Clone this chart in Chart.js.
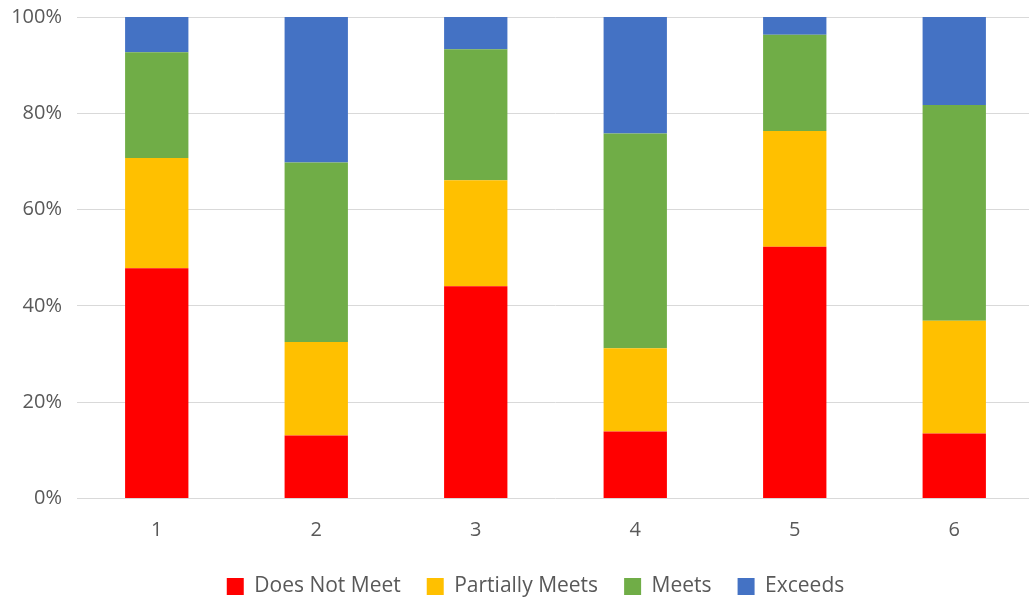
<!DOCTYPE html>
<html>
<head>
<meta charset="utf-8">
<script src="https://cdn.jsdelivr.net/npm/chart.js@4/dist/chart.umd.min.js"></script>
<style>
  html, body { margin: 0; padding: 0; background: #ffffff; overflow: hidden; }
  #wrap { width: 1071px; height: 598px; }
</style>
</head>
<body>
<div id="wrap"><canvas id="chart" width="1071" height="598"></canvas></div>
<script>
// Share of results per group, in percent (each group sums to 100)
const categories = ['1', '2', '3', '4', '5', '6'];
const doesNotMeet    = [47.8, 13.1, 44.1, 13.9, 52.3, 13.5];
const partiallyMeets = [22.9, 19.4, 22.0, 17.3, 24.0, 23.4];
const meets          = [22.0, 37.3, 27.2, 44.6, 20.0, 44.8];
const exceeds        = [7.3, 30.2, 6.7, 24.2, 3.7, 18.3];
const yTicks = [0, 20, 40, 60, 80, 100];

const FONT = '"Open Sans", "DejaVu Sans", sans-serif';
const TEXT = '#595959';

const ds = (label, data, color) => ({
  label, data,
  backgroundColor: color,
  borderWidth: 0,
  barPercentage: 0.397,
  categoryPercentage: 1.0
});

// Centre the legend row on the full canvas width rather than on the padded box
const legendShift = {
  id: 'legendShift',
  afterLayout(chart) {
    const lg = chart.legend;
    if (!lg) return;
    const dx = (chart.width / 2) - (lg.left + lg.right) / 2;
    lg.left += dx;
    lg.right += dx;
  }
};

new Chart(document.getElementById('chart'), {
  type: 'bar',
  data: {
    labels: categories,
    datasets: [
      ds('Does Not Meet', doesNotMeet, '#FF0000'),
      ds('Partially Meets', partiallyMeets, '#FFC000'),
      ds('Meets', meets, '#70AD47'),
      ds('Exceeds', exceeds, '#4472C4')
    ]
  },
  plugins: [legendShift],
  options: {
    responsive: false,
    animation: false,
    layout: { padding: { top: 17, right: 37, left: 11, bottom: -9 } },
    plugins: {
      legend: {
        position: 'bottom',
        labels: {
          font: { family: FONT, size: 21 },
          color: TEXT,
          boxWidth: 17,
          boxHeight: 17,
          padding: 26
        }
      },
      tooltip: { enabled: false }
    },
    scales: {
      x: {
        stacked: true,
        grid: { display: false, drawTicks: false },
        border: { display: false },
        ticks: { font: { family: FONT, size: 20 }, color: TEXT, padding: 19.5 },
        afterFit: (axis) => { axis.height = 51.5; }
      },
      y: {
        stacked: true,
        min: 0,
        max: 100,
        afterBuildTicks: (axis) => { axis.ticks = yTicks.map(v => ({ value: v })); },
        afterFit: (axis) => {
          axis.width = 66;
          axis.paddingTop = 0;
          axis.paddingBottom = 0;
        },
        grid: { color: '#D9D9D9', lineWidth: 1, drawTicks: false },
        border: { display: false },
        ticks: {
          font: { family: FONT, size: 20 },
          color: TEXT,
          padding: 15,
          callback: (v) => v + '%'
        }
      }
    }
  }
});
</script>
</body>
</html>
